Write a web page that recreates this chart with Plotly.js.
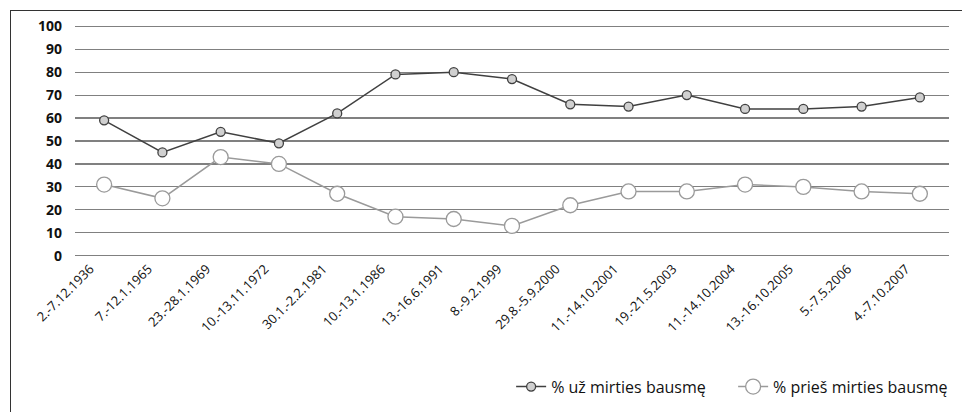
<!DOCTYPE html>
<html>
<head>
<meta charset="utf-8">
<script src="https://cdn.plot.ly/plotly-3.0.1.min.js"></script>
<style>
  html, body { margin: 0; padding: 0; background: #fff; }
  #wrap { position: relative; width: 962px; height: 412px; overflow: hidden; }
  #frame { position: absolute; left: 10px; top: 10px; width: 1000px; height: 500px;
           border-left: 1.5px solid #333; border-top: 1.5px solid #333; pointer-events: none; }
  #chart { position: absolute; left: 0; top: 0; width: 962px; height: 412px; }
</style>
</head>
<body>
<div id="wrap">
  <div id="chart"></div>
  <div id="frame"></div>
</div>
<script>
const categories = ["2.-7.12.1936", "7.-12.1.1965", "23.-28.1.1969", "10.-13.11.1972", "30.1.-2.2.1981",
  "10.-13.1.1986", "13.-16.6.1991", "8.-9.2.1999", "29.8.-5.9.2000", "11.-14.10.2001",
  "19.-21.5.2003", "11.-14.10.2004", "13.-16.10.2005", "5.-7.5.2006", "4.-7.10.2007"];
const forValues = [59, 45, 54, 49, 62, 79, 80, 77, 66, 65, 70, 64, 64, 65, 69];
const againstValues = [31, 25, 43, 40, 27, 17, 16, 13, 22, 28, 28, 31, 30, 28, 27];
const seriesNames = ["% už mirties bausmę", "% prieš mirties bausmę"];
const yTicks = [0, 10, 20, 30, 40, 50, 60, 70, 80, 90, 100];

const traces = [
  {
    x: categories, y: forValues, name: seriesNames[0], type: "scatter", mode: "lines+markers",
    legend: "legend",
    line: { color: "#404040", width: 1.5 },
    marker: { size: 9, color: "#d0d0d0", line: { color: "#404040", width: 1.3 } }
  },
  {
    x: categories, y: againstValues, name: seriesNames[1], type: "scatter", mode: "lines+markers",
    legend: "legend2",
    line: { color: "#9a9a9a", width: 1.5 },
    marker: { size: 15, color: "#ffffff", line: { color: "#9a9a9a", width: 1.3 } }
  }
];

const layout = {
  width: 962, height: 412,
  margin: { l: 75, r: 9, t: 24, b: 152 },
  paper_bgcolor: "#fff", plot_bgcolor: "#fff",
  font: { family: "Open Sans, sans-serif", color: "#111" },
  xaxis: {
    type: "category", range: [-0.5, 14.5], showgrid: false, zeroline: false, showline: false,
    color: "#111",
    tickangle: -45, ticks: "", ticklabelshift: -14, ticklabelstandoff: 0,
    tickfont: { size: 13, color: "#111", family: "Open Sans, sans-serif" }
  },
  yaxis: {
    range: [-1, 101], tickvals: yTicks, ticktext: yTicks.map(String),
    showgrid: true, gridcolor: "#808080", gridwidth: 1.2, zeroline: false, showline: false,
    ticks: "", ticklabelstandoff: 12, color: "#111",
    tickfont: { size: 14, color: "#111", weight: "bold" }
  },
  showlegend: true,
  legend: {
    orientation: "h", x: 0.499, xanchor: "left", y: -0.55, yanchor: "middle",
    font: { size: 16, color: "#111" }, bgcolor: "rgba(0,0,0,0)"
  },
  legend2: {
    orientation: "h", x: 0.753, xanchor: "left", y: -0.55, yanchor: "middle",
    font: { size: 16, color: "#111" }, bgcolor: "rgba(0,0,0,0)"
  }
};

Plotly.newPlot("chart", traces, layout, { displayModeBar: false, staticPlot: true });
</script>
</body>
</html>
